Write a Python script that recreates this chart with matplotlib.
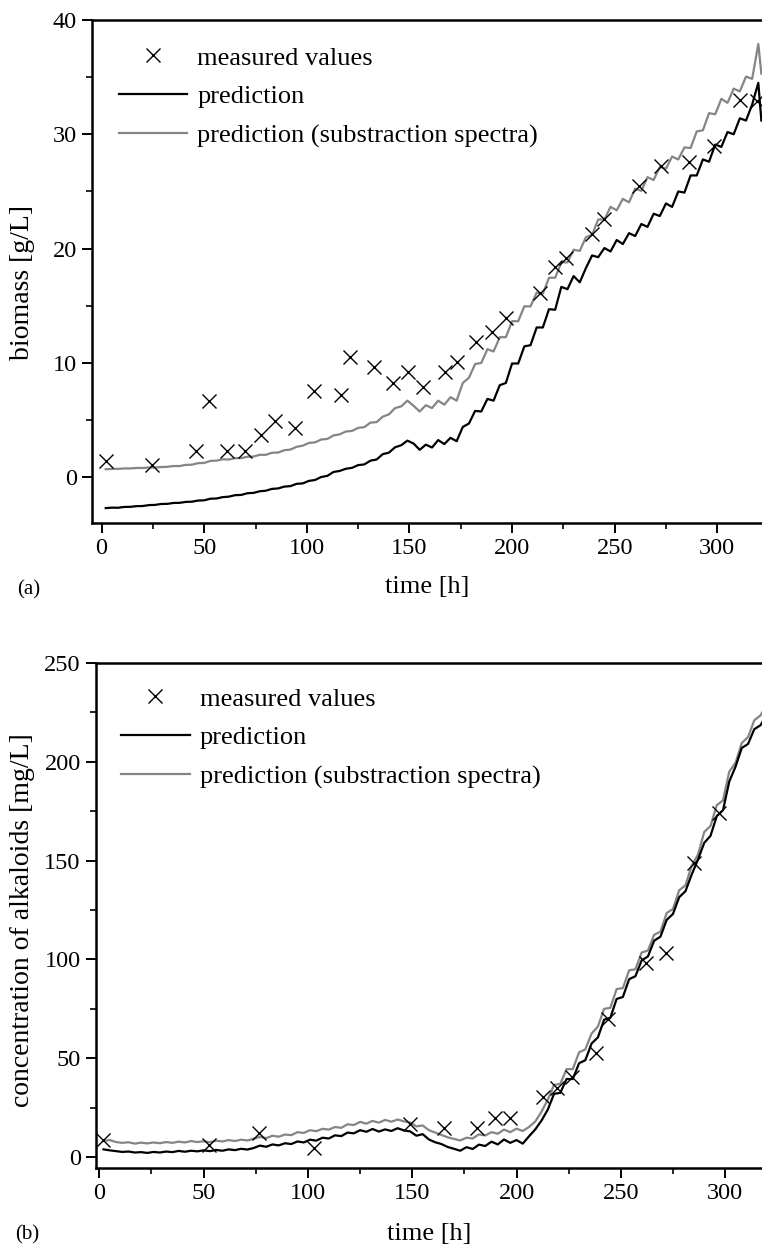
import numpy as np
import matplotlib
matplotlib.use('Agg')
import matplotlib.pyplot as plt
from matplotlib.ticker import MultipleLocator
from matplotlib.lines import Line2D

plt.rcParams['font.family'] = ['Liberation Serif', 'DejaVu Serif']

# sample grid of the predictions (h)
t_pred = np.arange(2, 321, 3)

# (a) biomass [g/L]
bio_pred = [-2.70, -2.66, -2.67, -2.60, -2.59, -2.53, -2.52, -2.44, -2.42, -2.34,
            -2.33, -2.25, -2.24, -2.16, -2.14, -2.04, -2.02, -1.88, -1.86, -1.74,
            -1.70, -1.57, -1.55, -1.40, -1.37, -1.23, -1.18, -1.02, -0.98, -0.82,
            -0.78, -0.58, -0.54, -0.32, -0.24, 0.02, 0.12, 0.46, 0.55, 0.74,
            0.82, 1.06, 1.12, 1.45, 1.55, 2.02, 2.15, 2.62, 2.80, 3.20,
            2.95, 2.40, 2.85, 2.60, 3.25, 2.90, 3.45, 3.15, 4.40, 4.70,
            5.80, 5.75, 6.85, 6.70, 8.05, 8.25, 9.95, 9.95, 11.45, 11.55,
            13.10, 13.10, 14.70, 14.65, 16.65, 16.45, 17.60, 17.05, 18.30, 19.40,
            19.25, 20.05, 19.75, 20.75, 20.40, 21.35, 21.10, 22.15, 21.90, 23.05,
            22.85, 23.95, 23.65, 25.00, 24.90, 26.40, 26.40, 27.80, 27.60, 29.10,
            28.90, 30.20, 30.00, 31.40, 31.20, 32.60, 34.50]
bio_pred_sub = [0.70, 0.73, 0.73, 0.77, 0.77, 0.81, 0.81, 0.85, 0.85, 0.89,
                0.91, 0.98, 0.98, 1.08, 1.10, 1.23, 1.25, 1.43, 1.45, 1.57,
                1.55, 1.67, 1.67, 1.79, 1.81, 1.96, 1.96, 2.14, 2.16, 2.36,
                2.42, 2.66, 2.76, 3.00, 3.05, 3.30, 3.35, 3.66, 3.75, 4.00,
                4.05, 4.32, 4.38, 4.78, 4.82, 5.30, 5.50, 6.05, 6.20, 6.70,
                6.25, 5.75, 6.30, 6.05, 6.70, 6.35, 7.00, 6.70, 8.25, 8.70,
                9.90, 10.00, 11.20, 11.00, 12.25, 12.25, 13.65, 13.65, 14.95, 14.95,
                16.15, 16.05, 17.45, 17.45, 18.80, 18.80, 19.90, 19.80, 21.00, 21.20,
                22.55, 22.55, 23.65, 23.35, 24.35, 24.05, 25.25, 25.05, 26.25, 26.00,
                27.15, 27.00, 28.05, 27.80, 28.85, 28.80, 30.25, 30.35, 31.85, 31.75,
                33.10, 32.75, 34.00, 33.75, 35.05, 34.85, 37.90]
bio_end_t = 321.5
bio_end = 31.20
bio_end_sub = 35.30

t_bio = [2.1, 24.5, 46, 52.3, 61, 69.7, 77.5, 84.6, 94.4, 103.3, 116.5, 121.2,
         132.7, 142, 149.3, 156.5, 167.3, 173, 182.4, 190.4, 197, 213.6, 220.9,
         226.3, 238.9, 244.8, 262, 272.6, 286.4, 298.5, 311, 319.5]
bio_meas = [1.4, 1.1, 2.3, 6.7, 2.3, 2.3, 3.7, 4.9, 4.3, 7.5, 7.2, 10.5,
            9.6, 8.2, 9.2, 7.9, 9.2, 10.1, 11.8, 12.7, 13.9, 16.1, 18.4,
            19.2, 21.3, 22.6, 25.5, 27.2, 27.6, 29.0, 33.0, 32.9]

# (b) alkaloids [mg/L]
alk_pred = [3.9, 3.4, 3.0, 2.6, 2.8, 2.3, 2.5, 2.1, 2.6, 2.3,
            2.8, 2.5, 3.1, 2.7, 3.2, 2.9, 3.4, 3.0, 3.6, 3.2,
            3.9, 3.5, 4.2, 3.8, 4.6, 5.8, 5.2, 6.4, 5.9, 7.0,
            6.6, 7.9, 7.4, 8.8, 8.3, 9.8, 9.4, 11.0, 10.6, 12.4,
            12.0, 13.6, 12.8, 14.2, 12.9, 14.0, 13.2, 14.6, 13.5, 13.0,
            10.8, 11.6, 8.9, 7.5, 6.6, 5.1, 4.2, 3.2, 5.0, 4.1,
            6.3, 5.6, 7.8, 6.4, 8.9, 7.2, 8.6, 6.8, 10.5, 14.0,
            18.5, 24.0, 32.0, 32.5, 39.5, 39.5, 47.5, 49.0, 57.5, 60.5,
            69.5, 70.5, 80.0, 81.0, 90.0, 91.5, 99.5, 101.5, 109.5, 111.5,
            120.0, 123.0, 131.5, 134.5, 143.0, 150.5, 159.0, 162.5, 172.5, 175.5,
            190.0, 197.5, 207.0, 209.0, 216.5, 218.5, 224.0]
alk_pred_sub = [8.2, 8.6, 7.6, 7.2, 7.5, 6.8, 7.3, 6.9, 7.4, 7.0,
                7.6, 7.2, 7.8, 7.4, 8.1, 7.6, 8.0, 7.5, 8.3, 7.9,
                8.6, 8.1, 8.8, 8.4, 9.3, 10.2, 9.6, 10.8, 10.3, 11.4,
                11.1, 12.6, 12.2, 13.6, 13.1, 14.3, 13.9, 15.2, 14.8, 16.6,
                16.2, 17.8, 16.9, 18.3, 17.4, 18.8, 17.9, 19.0, 18.1, 17.5,
                15.5, 16.0, 13.6, 12.4, 11.2, 10.0, 9.2, 8.4, 9.8, 9.4,
                11.5, 10.9, 12.6, 11.8, 13.9, 12.6, 14.4, 13.2, 15.2, 18.0,
                23.0, 29.0, 36.5, 37.0, 44.5, 44.5, 53.0, 54.5, 62.5, 66.0,
                75.0, 75.5, 85.0, 85.5, 94.5, 95.0, 103.5, 104.5, 112.5, 114.0,
                123.5, 125.5, 135.0, 137.5, 147.5, 153.0, 164.5, 167.5, 178.0, 180.5,
                195.0, 199.5, 209.5, 212.5, 221.0, 223.5, 229.0]

t_alk = [1.9, 52.4, 76.7, 103.1, 149, 165.4, 180.9, 189.7, 196.9, 212.6,
         219.3, 226.5, 238.1, 244, 261.9, 271.5, 285.1, 297]
alk_meas = [8.6, 6.1, 12.0, 4.4, 16.5, 14.5, 14.5, 19.6, 19.6, 30.5,
            34.8, 40.7, 52.5, 69.7, 98.0, 103.1, 148.6, 173.9]

labels = ['measured values', 'prediction', 'prediction (substraction spectra)']
grey = '#858585'

fig = plt.figure(figsize=(7.62, 12.49), dpi=100)
ax1 = fig.add_axes([0.1207, 0.5813, 0.8793, 0.4027])
ax2 = fig.add_axes([0.1260, 0.0649, 0.8740, 0.4043])


def style_axes(ax):
    ax.spines['right'].set_visible(False)
    for s in ['left', 'bottom', 'top']:
        ax.spines[s].set_linewidth(1.8)
    ax.tick_params(which='major', direction='out', length=7, width=1.4,
                   labelsize=17.5, pad=4, top=False, right=False)
    ax.tick_params(which='minor', direction='out', length=4, width=1.2,
                   top=False, right=False)
    ax.xaxis.set_major_locator(MultipleLocator(50))
    ax.xaxis.set_minor_locator(MultipleLocator(25))


def add_legend(ax, x0, y0):
    handles = [Line2D([], [], ls='none', marker='x', color='black', ms=10, mew=1.0),
               Line2D([], [], color='black', lw=1.6),
               Line2D([], [], color=grey, lw=1.6)]
    ax.legend(handles, labels, loc='upper left', bbox_to_anchor=(x0, y0),
              frameon=False, fontsize=19, handlelength=2.6, handletextpad=0.38,
              borderpad=0, borderaxespad=0, labelspacing=0.58)


# panel (a)
ax1.plot(list(t_pred) + [bio_end_t], bio_pred + [bio_end], color='black', lw=1.6, zorder=3)
ax1.plot(list(t_pred) + [bio_end_t], bio_pred_sub + [bio_end_sub], color=grey, lw=1.6, zorder=2)
ax1.plot(t_bio, bio_meas, ls='none', marker='x', color='black', ms=10, mew=1.0, zorder=4)
ax1.set_xlim(-4.7, 321.8)
ax1.set_ylim(-4, 40)
style_axes(ax1)
ax1.yaxis.set_major_locator(MultipleLocator(10))
ax1.yaxis.set_minor_locator(MultipleLocator(5))
ax1.set_xlabel('time [h]', fontsize=19)
ax1.set_ylabel('biomass [g/L]', fontsize=20)
ax1.xaxis.set_label_coords(0.5, -0.105)
ax1.yaxis.set_label_coords(-0.085, 0.479)
add_legend(ax1, 0.040, 0.948)
fig.text(17 / 762, 1 - 590 / 1249, '(a)', fontsize=15, va='center', ha='left')

# panel (b)
ax2.plot(t_pred, alk_pred, color='black', lw=1.6, zorder=3)
ax2.plot(t_pred, alk_pred_sub, color=grey, lw=1.6, zorder=2)
ax2.plot(t_alk, alk_meas, ls='none', marker='x', color='black', ms=10, mew=1.0, zorder=4)
ax2.set_xlim(-1.6, 317.7)
ax2.set_ylim(-5.5, 250)
style_axes(ax2)
ax2.yaxis.set_major_locator(MultipleLocator(50))
ax2.yaxis.set_minor_locator(MultipleLocator(25))
ax2.set_xlabel('time [h]', fontsize=19)
ax2.set_ylabel('concentration of alkaloids [mg/L]', fontsize=20)
ax2.xaxis.set_label_coords(0.5, -0.109)
ax2.yaxis.set_label_coords(-0.092, 0.491)
add_legend(ax2, 0.0375, 0.952)
fig.text(15 / 762, 1 - 1235 / 1249, '(b)', fontsize=15, va='center', ha='left')

fig.savefig('out.png', dpi=100)
